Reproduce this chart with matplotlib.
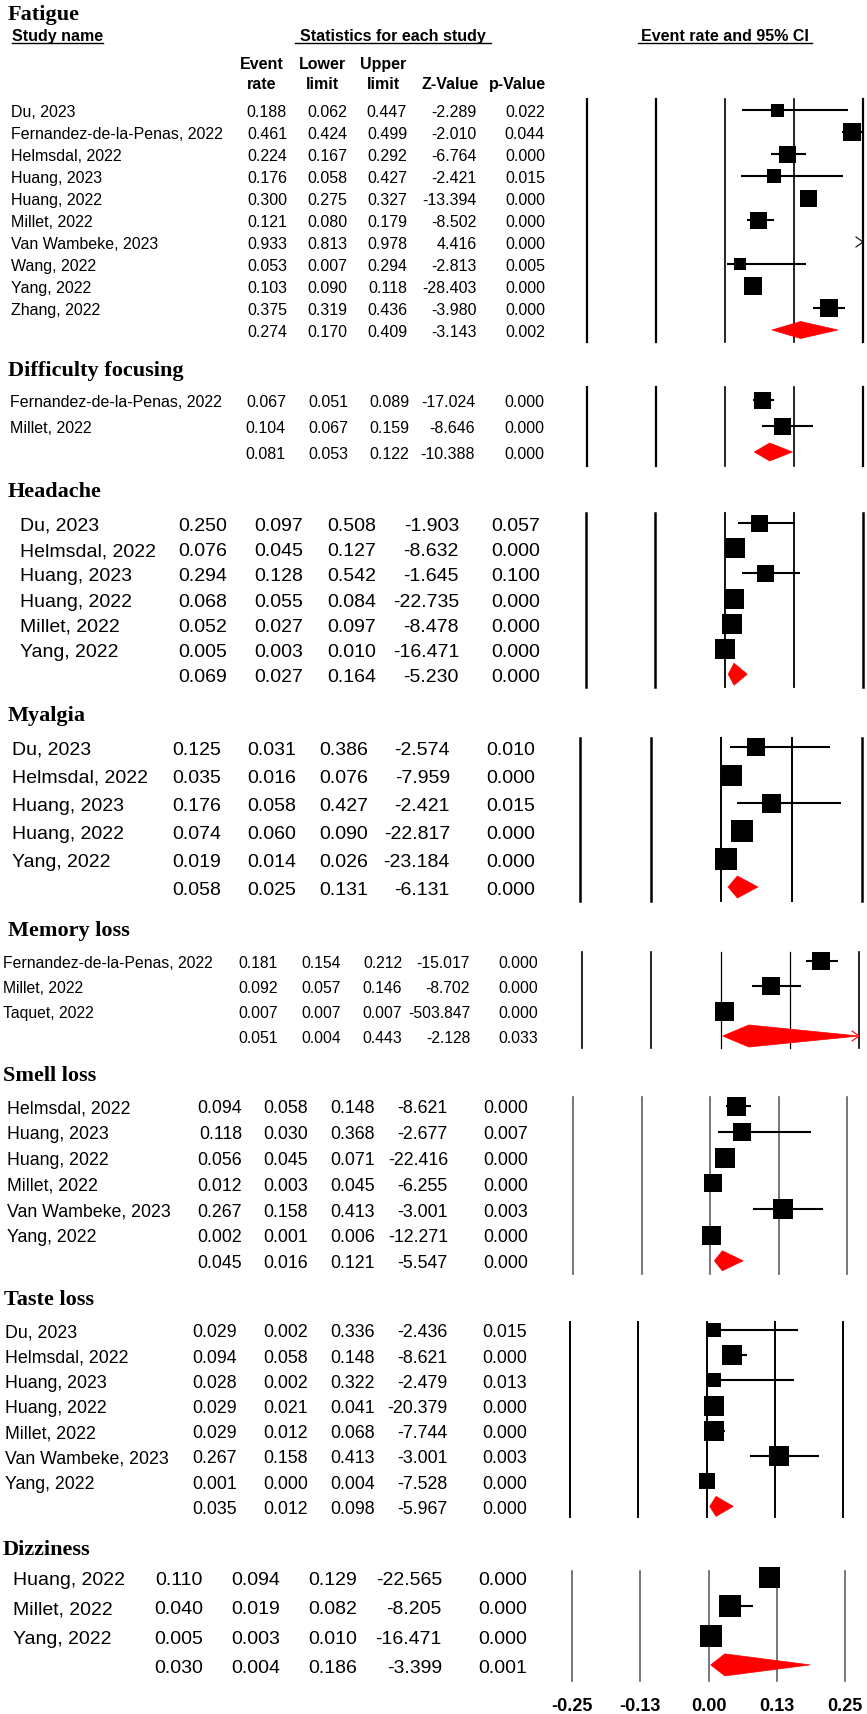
import matplotlib
matplotlib.use("Agg")
import matplotlib.pyplot as plt
from matplotlib.patches import Polygon
from matplotlib.lines import Line2D

W, H, DPI = 867, 1715, 100
SANS = "Liberation Sans"
SERIF = "Liberation Serif"
plt.rcParams["font.family"] = [SANS, "DejaVu Sans"]

# ─────────────────────────────────────────
# Data (rate, lower, upper, z, p) — pooled row kept apart
# ─────────────────────────────────────────

fatigue_names = ["Du, 2023", "Fernandez-de-la-Penas, 2022", "Helmsdal, 2022", "Huang, 2023",
                 "Huang, 2022", "Millet, 2022", "Van Wambeke, 2023", "Wang, 2022",
                 "Yang, 2022", "Zhang, 2022"]
fatigue_rate = [0.188, 0.461, 0.224, 0.176, 0.300, 0.121, 0.933, 0.053, 0.103, 0.375]
fatigue_lower = [0.062, 0.424, 0.167, 0.058, 0.275, 0.080, 0.813, 0.007, 0.090, 0.319]
fatigue_upper = [0.447, 0.499, 0.292, 0.427, 0.327, 0.179, 0.978, 0.294, 0.118, 0.436]
fatigue_z = [-2.289, -2.010, -6.764, -2.421, -13.394, -8.502, 4.416, -2.813, -28.403, -3.980]
fatigue_p = [0.022, 0.044, 0.000, 0.015, 0.000, 0.000, 0.000, 0.005, 0.000, 0.000]
fatigue_pooled = [0.274, 0.170, 0.409, -3.143, 0.002]

focus_names = ["Fernandez-de-la-Penas, 2022", "Millet, 2022"]
focus_rate = [0.067, 0.104]
focus_lower = [0.051, 0.067]
focus_upper = [0.089, 0.159]
focus_z = [-17.024, -8.646]
focus_p = [0.000, 0.000]
focus_pooled = [0.081, 0.053, 0.122, -10.388, 0.000]

headache_names = ["Du, 2023", "Helmsdal, 2022", "Huang, 2023", "Huang, 2022",
                  "Millet, 2022", "Yang, 2022"]
headache_rate = [0.250, 0.076, 0.294, 0.068, 0.052, 0.005]
headache_lower = [0.097, 0.045, 0.128, 0.055, 0.027, 0.003]
headache_upper = [0.508, 0.127, 0.542, 0.084, 0.097, 0.010]
headache_z = [-1.903, -8.632, -1.645, -22.735, -8.478, -16.471]
headache_p = [0.057, 0.000, 0.100, 0.000, 0.000, 0.000]
headache_pooled = [0.069, 0.027, 0.164, -5.230, 0.000]

myalgia_names = ["Du, 2023", "Helmsdal, 2022", "Huang, 2023", "Huang, 2022", "Yang, 2022"]
myalgia_rate = [0.125, 0.035, 0.176, 0.074, 0.019]
myalgia_lower = [0.031, 0.016, 0.058, 0.060, 0.014]
myalgia_upper = [0.386, 0.076, 0.427, 0.090, 0.026]
myalgia_z = [-2.574, -7.959, -2.421, -22.817, -23.184]
myalgia_p = [0.010, 0.000, 0.015, 0.000, 0.000]
myalgia_pooled = [0.058, 0.025, 0.131, -6.131, 0.000]

memory_names = ["Fernandez-de-la-Penas, 2022", "Millet, 2022", "Taquet, 2022"]
memory_rate = [0.181, 0.092, 0.007]
memory_lower = [0.154, 0.057, 0.007]
memory_upper = [0.212, 0.146, 0.007]
memory_z = [-15.017, -8.702, -503.847]
memory_p = [0.000, 0.000, 0.000]
memory_pooled = [0.051, 0.004, 0.443, -2.128, 0.033]

smell_names = ["Helmsdal, 2022", "Huang, 2023", "Huang, 2022", "Millet, 2022",
               "Van Wambeke, 2023", "Yang, 2022"]
smell_rate = [0.094, 0.118, 0.056, 0.012, 0.267, 0.002]
smell_lower = [0.058, 0.030, 0.045, 0.003, 0.158, 0.001]
smell_upper = [0.148, 0.368, 0.071, 0.045, 0.413, 0.006]
smell_z = [-8.621, -2.677, -22.416, -6.255, -3.001, -12.271]
smell_p = [0.000, 0.007, 0.000, 0.000, 0.003, 0.000]
smell_pooled = [0.045, 0.016, 0.121, -5.547, 0.000]

taste_names = ["Du, 2023", "Helmsdal, 2022", "Huang, 2023", "Huang, 2022",
               "Millet, 2022", "Van Wambeke, 2023", "Yang, 2022"]
taste_rate = [0.029, 0.094, 0.028, 0.029, 0.029, 0.267, 0.001]
taste_lower = [0.002, 0.058, 0.002, 0.021, 0.012, 0.158, 0.000]
taste_upper = [0.336, 0.148, 0.322, 0.041, 0.068, 0.413, 0.004]
taste_z = [-2.436, -8.621, -2.479, -20.379, -7.744, -3.001, -7.528]
taste_p = [0.015, 0.000, 0.013, 0.000, 0.000, 0.003, 0.000]
taste_pooled = [0.035, 0.012, 0.098, -5.967, 0.000]

dizzy_names = ["Huang, 2022", "Millet, 2022", "Yang, 2022"]
dizzy_rate = [0.110, 0.040, 0.005]
dizzy_lower = [0.094, 0.019, 0.003]
dizzy_upper = [0.129, 0.082, 0.010]
dizzy_z = [-22.565, -8.205, -16.471]
dizzy_p = [0.000, 0.000, 0.000]
dizzy_pooled = [0.030, 0.004, 0.186, -3.399, 0.001]

tick_labels = ["-0.25", "-0.13", "0.00", "0.13", "0.25"]

# ─────────────────────────────────────────
# Layout (pixels from top-left) — each panel is its own pasted CMA output
# ─────────────────────────────────────────

panels = [
    dict(title="Fatigue", data=(fatigue_names, fatigue_rate, fatigue_lower, fatigue_upper, fatigue_z, fatigue_p, fatigue_pooled),
         title_xy=(8, 12), row0=111, step=22, name_x=11, cols=[287, 347, 407, 477, 545], fs=11.5,
         fx=(587, 863), fy=(100, 343), R=0.5, lc="black", lw=(1.6, 1.2), dh=8.5,
         box=[13, 18, 17, 14, 17, 17, 0, 12, 18, 18]),
    dict(title="Difficulty focusing", data=(focus_names, focus_rate, focus_lower, focus_upper, focus_z, focus_p, focus_pooled),
         title_xy=(8, 368), row0=401, step=26, name_x=10, cols=[286, 348, 409, 475, 544], fs=11.5,
         fx=(587, 863), fy=(388, 467), R=0.25, lc="black", lw=(1.6, 1.2), dh=9,
         box=[17, 17]),
    dict(title="Headache", data=(headache_names, headache_rate, headache_lower, headache_upper, headache_z, headache_p, headache_pooled),
         title_xy=(8, 489), row0=524, step=25.2, name_x=20, cols=[227, 303, 376, 459, 540], fs=14,
         fx=(586, 863), fy=(514, 688), R=1.0, lc="black", lw=(1.8, 1.3), dh=11,
         box=[17, 20, 17, 20, 20, 20]),
    dict(title="Myalgia", data=(myalgia_names, myalgia_rate, myalgia_lower, myalgia_upper, myalgia_z, myalgia_p, myalgia_pooled),
         title_xy=(8, 713), row0=748, step=28, name_x=12, cols=[221, 296, 368, 450, 535], fs=14,
         fx=(580, 862), fy=(739, 902), R=0.5, lc="black", lw=(1.8, 1.4), dh=11,
         box=[18, 21, 19, 22, 22]),
    dict(title="Memory loss", data=(memory_names, memory_rate, memory_lower, memory_upper, memory_z, memory_p, memory_pooled),
         title_xy=(8, 928), row0=962, step=25, name_x=3, cols=[278, 341, 402, 470, 538], fs=11.3,
         fx=(582, 859), fy=(953, 1049), R=0.25, lc="black", lw=(1.2, 0.9), dh=11,
         box=[18, 18, 19]),
    dict(title="Smell loss", data=(smell_names, smell_rate, smell_lower, smell_upper, smell_z, smell_p, smell_pooled),
         title_xy=(3, 1073), row0=1107, step=25.8, name_x=7, cols=[242, 308, 375, 448, 528], fs=12.8,
         fx=(573, 847), fy=(1098, 1275), R=0.5, lc="#606060", lw=(1.2, 1.2), dh=10,
         box=[19, 18, 20, 18, 20, 19]),
    dict(title="Taste loss", data=(taste_names, taste_rate, taste_lower, taste_upper, taste_z, taste_p, taste_pooled),
         title_xy=(4, 1297), row0=1331, step=25.2, name_x=5, cols=[237, 308, 375, 448, 527], fs=12.8,
         fx=(570, 843), fy=(1323, 1518), R=0.5, lc="black", lw=(1.4, 1.4), dh=10,
         box=[14, 20, 14, 20, 20, 20, 16]),
    dict(title="Dizziness", data=(dizzy_names, dizzy_rate, dizzy_lower, dizzy_upper, dizzy_z, dizzy_p, dizzy_pooled),
         title_xy=(3, 1547), row0=1578, step=29.3, name_x=13, cols=[203, 280, 357, 442, 527], fs=14,
         fx=(572, 845), fy=(1572, 1682), R=0.25, lc="#606060", lw=(1.2, 1.2), dh=11,
         box=[21, 22, 23]),
]

fig = plt.figure(figsize=(W / DPI, H / DPI), dpi=DPI)
fig.patch.set_facecolor("white")


def put(x, y, s, fs, ha="left", weight="normal", family=SANS):
    """Text whose cap-height centre sits at pixel row y."""
    base = y + 0.36 * fs * DPI / 72
    return fig.text(x / W, 1 - base / H, s, fontsize=fs, ha=ha, va="baseline",
                    fontweight=weight, family=family, color="black")


def chevron(ax, x, y, ppu, color):
    dx = 7 / ppu
    ax.plot([x - dx, x, x - dx], [y - 5, y, y + 5], color=color, lw=0.8,
            clip_on=False, solid_joinstyle="miter")


def draw_panel(p):
    names, rate, lower, upper, zval, pval, pooled = p["data"]
    put(p["title_xy"][0], p["title_xy"][1], p["title"], 16, weight="bold", family=SERIF)

    rows = [p["row0"] + i * p["step"] for i in range(len(names) + 1)]
    for i, nm in enumerate(names):
        put(p["name_x"], rows[i], nm, p["fs"])
        for cx, v in zip(p["cols"], [rate[i], lower[i], upper[i], zval[i], pval[i]]):
            put(cx, rows[i], f"{v:.3f}", p["fs"], ha="right")
    for cx, v in zip(p["cols"], pooled):
        put(cx, rows[-1], f"{v:.3f}", p["fs"], ha="right")

    # forest part: axes in pixel rows, x in event-rate units
    x0, x1 = p["fx"]
    y0, y1 = p["fy"]
    R = p["R"]
    ax = fig.add_axes([x0 / W, 1 - y1 / H, (x1 - x0) / W, (y1 - y0) / H])
    ax.set_xlim(-R, R)
    ax.set_ylim(y1, y0)
    ax.axis("off")
    ppu = (x1 - x0) / (2 * R)

    grid = [-R, -R / 2, 0, R / 2, R]
    widths = [p["lw"][0], p["lw"][0], p["lw"][1], p["lw"][1], p["lw"][0]]
    for g, w in zip(grid, widths):
        ax.axvline(g, color=p["lc"], lw=w, clip_on=False, zorder=1)

    for i in range(len(names)):
        y = rows[i]
        lo, hi, est = lower[i], upper[i], rate[i]
        if lo >= R:
            chevron(ax, R, y, ppu, "black")
            continue
        ax.plot([max(lo, -R), min(hi, R)], [y, y], color="black", lw=1.5,
                solid_capstyle="butt", zorder=2, clip_on=False)
        if hi > R:
            chevron(ax, R, y, ppu, "black")
        side = p["box"][i]
        ax.plot([est], [y], marker="s", ms=side * 72 / DPI, color="black",
                mec="black", mew=0, zorder=3, clip_on=False)

    est, lo, hi = pooled[0], pooled[1], pooled[2]
    y, h = rows[-1], p["dh"]
    right = min(hi, R)
    ax.add_patch(Polygon([(lo, y), (est, y - h), (right, y), (est, y + h)],
                         closed=True, facecolor="#ff0000", edgecolor="#ff0000",
                         lw=0.5, zorder=3, clip_on=False))
    if hi > R:
        chevron(ax, R, y, ppu, "#ff0000")
    return ax, grid


# header of the first panel
hdr = 11.5
t_study = put(12, 35, "Study name", hdr, weight="bold")
t_stats = put(393, 35, "Statistics for each study", hdr, ha="center", weight="bold")
t_ci = put(725, 35, "Event rate and 95% CI", hdr, ha="center", weight="bold")
for cx, top, bot in zip([262, 322, 383, 450, 517],
                        ["Event", "Lower", "Upper", "", ""],
                        ["rate", "limit", "limit", "Z-Value", "p-Value"]):
    if top:
        put(cx, 63, top, hdr, ha="center", weight="bold")
    put(cx, 83, bot, hdr, ha="center", weight="bold")

last_ax = None
for pan in panels:
    last_ax, last_grid = draw_panel(pan)

# tick labels under the last panel
for g, lab in zip(last_grid, tick_labels):
    last_ax.text(g, 1707, lab, ha="center", va="center", fontsize=13,
                 fontweight="bold", clip_on=False)

# underline the header words
fig.canvas.draw()
rend = fig.canvas.get_renderer()
for t, pad in [(t_study, 0), (t_stats, 5), (t_ci, 3)]:
    bb = t.get_window_extent(rend)
    yl = 1 - 44 / H
    fig.add_artist(Line2D([(bb.x0 - pad) / W, (bb.x1 + pad) / W], [yl, yl],
                          transform=fig.transFigure, color="black", lw=1.0))

fig.savefig("out.png", dpi=DPI, facecolor="white")
